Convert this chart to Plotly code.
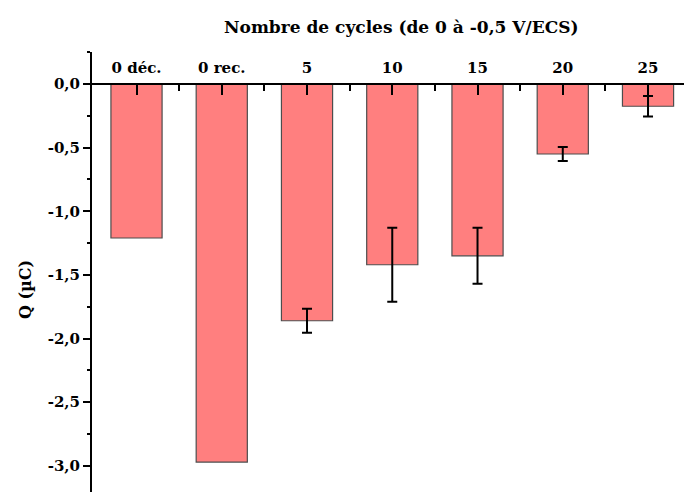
import plotly.graph_objects as go

# Charge mesurée selon le nombre de cycles
categories = ["0 déc.", "0 rec.", "5", "10", "15", "20", "25"]
charge = [-1.21, -2.97, -1.86, -1.42, -1.35, -0.55, -0.175]
erreur = [0, 0, 0.095, 0.29, 0.22, 0.055, 0.08]
y_ticks = [0.0, -0.5, -1.0, -1.5, -2.0, -2.5, -3.0]

FONT = "DejaVu Serif"
y_min, y_max = -3.205, 0.251

positions = list(range(len(categories)))
y_labels = [f"{v:.1f}".replace(".", ",") for v in y_ticks]

fig = go.Figure()
fig.add_trace(go.Bar(
    x=positions,
    y=charge,
    width=0.6,
    marker=dict(color="#FF7F7F", line=dict(color="#4d4d4d", width=1.2)),
    showlegend=False,
))

# barres d'erreur uniquement pour les mesures répétées
idx = [i for i, e in enumerate(erreur) if e > 0]
fig.add_trace(go.Scatter(
    x=[positions[i] for i in idx],
    y=[charge[i] for i in idx],
    mode="markers",
    marker=dict(size=1, opacity=0),
    error_y=dict(type="data", array=[erreur[i] for i in idx],
                 visible=True, color="black", thickness=2, width=5),
    showlegend=False, hoverinfo="skip",
))

fig.update_layout(
    width=684, height=492,
    margin=dict(l=92, r=0, t=52, b=0),
    paper_bgcolor="white", plot_bgcolor="white",
    font=dict(family=FONT, size=15, color="black"),
    xaxis=dict(
        range=[-0.522, 6.422],
        tickmode="array", tickvals=positions, ticktext=categories,
        side="top", anchor="free",
        position=(0 - y_min) / (y_max - y_min),
        showline=True, linecolor="black", linewidth=2,
        ticks="inside", ticklen=10, tickwidth=2, tickcolor="black",
        ticklabelstandoff=4,
        minor=dict(tickmode="array", tickvals=[p + 0.5 for p in positions[:-1]],
                   ticks="inside", ticklen=6, tickwidth=2, tickcolor="black"),
        showgrid=False, zeroline=False,
        tickfont=dict(family=FONT, size=15, color="black", weight="bold"),
    ),
    yaxis=dict(
        range=[y_min, y_max],
        tickmode="array", tickvals=y_ticks, ticktext=y_labels,
        showline=True, linecolor="black", linewidth=2,
        ticks="outside", ticklen=7, tickwidth=2, tickcolor="black",
        minor=dict(tickmode="array", tickvals=[-0.25, -0.75, -1.25, -1.75, -2.25, -2.75, 0.25, -3.25],
                   ticks="outside", ticklen=3, tickwidth=2, tickcolor="black"),
        showgrid=False, zeroline=False,
        tickfont=dict(family=FONT, size=15, color="black", weight="bold"),
    ),
    annotations=[
        dict(text="Nombre de cycles (de 0 à -0,5 V/ECS)", xref="paper", yref="paper",
             x=(401 - 92) / 592, y=1 + (52 - 27) / 440, xanchor="center", yanchor="middle",
             showarrow=False, font=dict(family=FONT, size=17, color="black", weight="bold")),
        dict(text="Q (µC)", xref="paper", yref="paper", textangle=-90,
             x=-(92 - 25) / 592, y=1 - (290 - 52) / 440, xanchor="center", yanchor="middle",
             showarrow=False, font=dict(family=FONT, size=16, color="black", weight="bold")),
    ],
)

fig.write_html("out.html")
